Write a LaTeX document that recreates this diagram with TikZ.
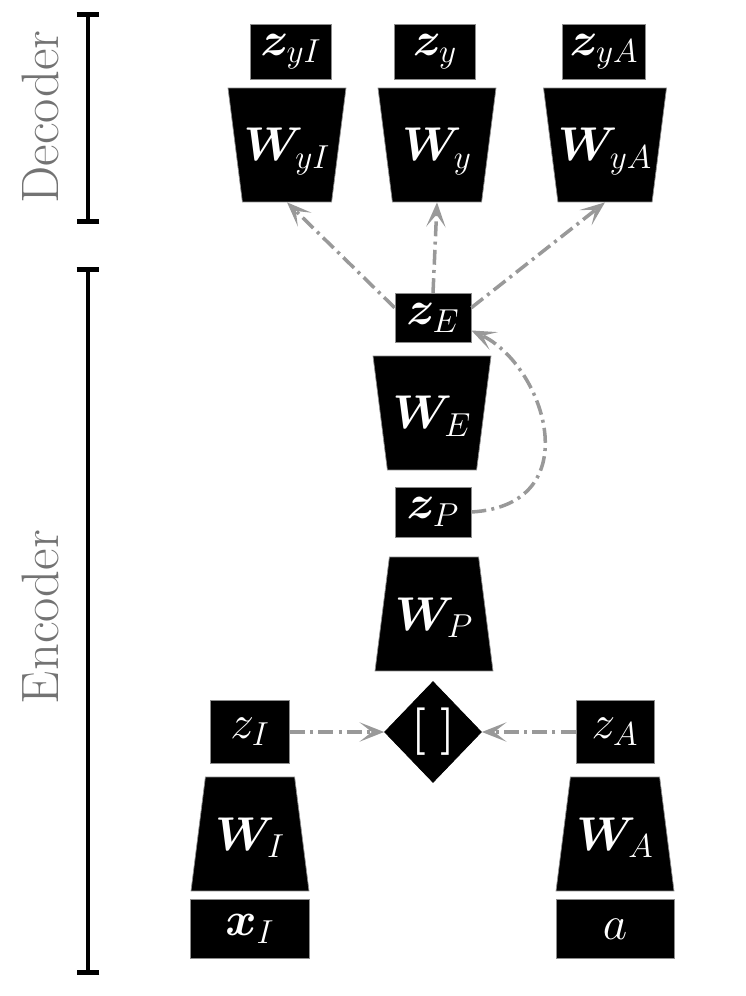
\RequirePackage{fix-cm}
\documentclass[tikz,border=0pt]{standalone}
\usepackage{amstext, amsfonts, amsmath, amsbsy, amssymb}
\usepackage{bm}
\usepackage{tikz}
\usetikzlibrary{shapes.geometric, arrows.meta}

\begin{document}
\begin{tikzpicture}[x=0.02cm, y=-0.02cm,
		lbl/.style = {text=white, font=\fontsize{27}{32}\selectfont},
		zbox/.style = {lbl, draw=black!45, fill=black, minimum width=1.62cm, minimum height=1.1cm, inner sep=0pt},
		wbox/.style = {lbl, draw=black!45, fill=black, trapezium, trapezium angle=82.8, trapezium stretches body, text height=1.46cm, text depth=0.82cm, minimum width=2.36cm, inner sep=0pt},
		wdown/.style = {wbox, shape border rotate=180},
		cat/.style = {lbl, draw=black, fill=black, diamond, minimum width=1.94cm, minimum height=2.02cm, inner sep=0pt},
		flow/.style = {-{Stealth[length=14pt, width=11pt, inset=7pt]}, draw=black!40, line width=2pt, dash pattern=on 8.5pt off 3pt on 1.7pt off 3pt},
		span/.style = {{Bar[width=0.46cm]}-{Bar[width=0.46cm]}, line width=2.8pt},
		side/.style = {text=black!55, rotate=90, font=\fontsize{30}{34}\selectfont}]
		\useasboundingbox (0,0) rectangle (746,996);
		
		% decoder
		\node[zbox] (zyI) at (291,52) {$\bm{z}_{yI}$};
		\node[zbox] (zy) at (435,52) {$\bm{z}_{y}$};
		\node[zbox, minimum width=1.66cm] (zyA) at (604,52) {$\bm{z}_{yA}$};
		\node[wdown] (WyI) at (287,145) {$\bm{W}_{yI}$};
		\node[wdown] (Wy) at (437,145) {$\bm{W}_{y}$};
		\node[wdown] (WyA) at (605,145) {$\bm{W}_{yA}$};
		
		% encoder
		\node[zbox, minimum width=1.52cm, minimum height=0.98cm] (zE) at (433,318) {$\bm{z}_E$};
		\node[wdown] (WE) at (432,413) {$\bm{W}_E$};
		\node[zbox, minimum width=1.52cm, minimum height=1cm] (zP) at (433,512) {$\bm{z}_P$};
		\node[wbox] (WP) at (434,614) {$\bm{W}_P$};
		\node[cat] (cat) at (433,732) {\textbf{[\hspace{0.3em}]}};
		\node[zbox, minimum width=1.58cm, minimum height=1.26cm] (zI) at (250,732) {$z_I$};
		\node[zbox, minimum width=1.56cm, minimum height=1.26cm] (zA) at (615,732) {$z_A$};
		\node[wbox] (WI) at (250,834) {$\bm{W}_I$};
		\node[wbox] (WA) at (615,834) {$\bm{W}_A$};
		\node[zbox, minimum width=2.38cm, minimum height=1.18cm] (xI) at (250,929) {$\bm{x}_I$};
		\node[zbox, minimum width=2.36cm, minimum height=1.18cm] (a) at (615,929) {$a$};
		
		\draw[flow] (zE.165) -- (WyI.south);
		\draw[flow] (zE.north) -- (Wy.south);
		\draw[flow] (zE.15) -- (WyA.south);
		\draw[flow] (zP.east) .. controls (590,505) and (545,365) .. (zE.-18);
		\draw[flow] (zI) -- (cat);
		\draw[flow] (zA) -- (cat);
		
		% side brackets
		\coordinate (dectop) at (88,12);
		\coordinate (decbot) at (88,224);
		\coordinate (enctop) at (88,267);
		\coordinate (encbot) at (88,975);
		\draw[span] (dectop) -- (decbot);
		\draw[span] (enctop) -- (encbot);
		\node[side] (dec) at (40,117) {Decoder};
		\node[side] (enc) at (40,617) {Encoder};
	\end{tikzpicture}
\end{document}
